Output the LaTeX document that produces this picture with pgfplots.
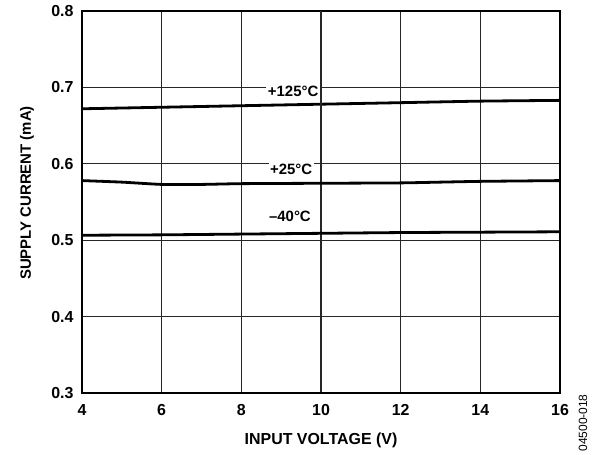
\documentclass[border=0pt]{standalone}
\usepackage{fontspec}
\setmainfont{Liberation Sans}
\usepackage{pgfplots}
\pgfplotsset{compat=1.18}

\begin{document}
\begin{tikzpicture}[x=1bp,y=1bp]
\path[use as bounding box] (0,0) rectangle (597,455);
\begin{axis}[
  at={(82bp,62bp)}, anchor=south west,
  width=478bp, height=382bp, scale only axis,
  xmin=4, xmax=16, ymin=0.3, ymax=0.8,
  xtick={4,6,...,16}, ytick={0.3,0.4,...,0.8},
  y tick label style={/pgf/number format/fixed, /pgf/number format/fixed zerofill, /pgf/number format/precision=1},
  /pgf/number format/assume math mode=true,
  ticklabel style={font=\fontsize{16}{19}\selectfont\bfseries},
  x tick label style={yshift=-8bp},
  y tick label style={xshift=-5bp},
  major tick length=0pt,
  grid=major,
  major grid style={black!85, line width=1.1bp},
  axis line style={black, line width=1.7bp},
  clip=false,
]
% supply current vs. input voltage at three temperatures
\addplot[black, line width=2.8bp, smooth, tension=0.3] coordinates {
  (4,0.672) (6,0.674) (8,0.676) (10,0.678) (12,0.680) (14,0.682) (16,0.683)};
\addplot[black, line width=2.8bp, smooth, tension=0.3] coordinates {
  (4,0.578) (5,0.576) (6,0.573) (7,0.573) (8,0.574) (10,0.5745) (12,0.575) (13,0.576) (14,0.577) (16,0.578)};
\addplot[black, line width=2.8bp, smooth, tension=0.3] coordinates {
  (4,0.5065) (6,0.507) (8,0.508) (10,0.509) (12,0.510) (14,0.5105) (16,0.511)};

\begin{scope}[every node/.style={fill=white, inner sep=1.5bp, font=\fontsize{15}{18}\selectfont\bfseries}]
\node at (axis cs:9.30,0.6953) {+125°C};
\node at (axis cs:9.25,0.5932) {+25°C};
\node at (axis cs:9.22,0.5317) {–40°C};
\end{scope}
\draw[black!85, line width=1.1bp] (axis cs:10,0.6) -- (axis cs:10,0.8);
\end{axis}
\node[font=\fontsize{16}{19}\selectfont\bfseries] at (321,15) {INPUT VOLTAGE (V)};
\node[font=\fontsize{15}{18}\selectfont\bfseries, rotate=90] at (27,262) {SUPPLY CURRENT (mA)};
\node[font=\fontsize{12}{14}\selectfont, rotate=90] at (583,32) {04500-018};
\end{tikzpicture}
\end{document}
